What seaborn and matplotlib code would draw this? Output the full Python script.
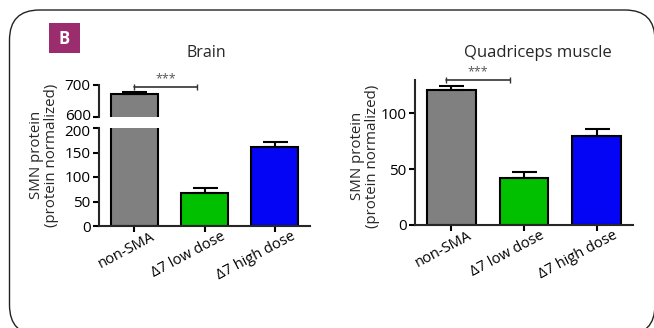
import numpy as np
import matplotlib
matplotlib.use("Agg")
import matplotlib.pyplot as plt
import matplotlib.transforms as mtrans
from matplotlib.patches import FancyBboxPatch, Rectangle
import seaborn as sns

# Datos
grupos = ["non-SMA", "Δ7 low dose", "Δ7 high dose"]
colores = ["#808080", "#00c000", "#0505f5"]
cerebro = [672, 67, 161]
cerebro_err = [6, 10, 10]
cuadriceps = [121, 42, 80]
cuadriceps_err = [3.5, 5.5, 6]

sns.set_theme(style="ticks")
plt.rcParams["font.family"] = ["Open Sans", "DejaVu Sans"]
plt.rcParams["axes.linewidth"] = 1.5

fig = plt.figure(figsize=(6.54, 3.28), dpi=100)

# Marco redondeado y etiqueta "B"
fondo = fig.add_axes([0, 0, 1, 1], zorder=-1)
fondo.set_xlim(0, 654)
fondo.set_ylim(328, 0)
fondo.axis("off")
fondo.add_patch(FancyBboxPatch((9.5, 10), 645.5, 325, boxstyle="round,pad=0,rounding_size=30",
                               fc="white", ec="#222222", lw=1.0, clip_on=False))
fondo.add_patch(Rectangle((49, 23), 31, 30, fc="#9b2d6f", ec="none"))
fondo.text(64.5, 38.5, "B", color="white", fontsize=12, fontweight="bold", ha="center", va="center")


def px(dx, dy):
    # desplazamiento en pixeles
    return mtrans.ScaledTranslation(dx / 100, dy / 100, fig.dpi_scale_trans)


def barras(ax, valores, errores):
    sns.barplot(x=grupos, y=valores, hue=grupos, palette=colores, legend=False, width=0.67,
                saturation=1, edgecolor="black", linewidth=1.5, ax=ax)
    ax.errorbar(range(len(grupos)), valores, yerr=[np.zeros(len(grupos)), errores], fmt="none",
                ecolor="black", elinewidth=1.5, capsize=9, capthick=1.5)
    ax.set_xlim(-0.5, 2.5)
    ax.set_xlabel("")
    ax.set_ylabel("")
    ax.tick_params(width=1.5, length=4, pad=2, colors="black")
    ax.tick_params(axis="y", labelsize=11)
    ax.tick_params(axis="x", labelsize=10.5)
    sns.despine(ax=ax)


def etiquetas_x(ax):
    for lab in ax.get_xticklabels():
        lab.set_rotation(28)
        lab.set_ha("right")
        lab.set_va("top")
        lab.set_rotation_mode("anchor")
        lab.set_transform(lab.get_transform() + px(16, 5))


def signif(ax, x0, x1, y, ys):
    ax.plot([x0, x1], [y, y], color="#333333", lw=1.2, marker="|", markersize=5, clip_on=False)
    ax.text((x0 + x1) / 2, ys, "***", ha="center", va="center", fontsize=9, color="#555555")


# Panel izquierdo: Brain (eje partido)
ax_bajo = fig.add_axes([99 / 654, 102 / 328, 211 / 654, 98 / 328])
ax_alto = fig.add_axes([99 / 654, 211 / 328, 211 / 654, 32 / 328])
barras(ax_bajo, cerebro, cerebro_err)
barras(ax_alto, cerebro, cerebro_err)
ax_bajo.set_ylim(0, 200)
ax_bajo.set_yticks([0, 50, 100, 150, 200])
ax_alto.set_ylim(600, 700)
ax_alto.set_yticks([600, 700])
ax_alto.spines["bottom"].set_visible(False)
ax_alto.tick_params(axis="x", bottom=False, labelbottom=False)
etiquetas_x(ax_bajo)
# separar un poco las etiquetas 600 / 200 junto al corte
l600 = ax_alto.get_yticklabels()[0]
l600.set_transform(l600.get_transform() + px(0, 2))
l200 = ax_bajo.get_yticklabels()[-1]
l200.set_transform(l200.get_transform() + px(0, -2))
signif(ax_alto, 0.0, 0.9, 694, 718)

# Panel derecho: Quadriceps muscle
ax_der = fig.add_axes([415 / 654, 103 / 328, 218 / 654, 145 / 328])
barras(ax_der, cuadriceps, cuadriceps_err)
ax_der.set_ylim(0, 130)
ax_der.set_yticks([0, 50, 100])
etiquetas_x(ax_der)
signif(ax_der, -0.08, 0.81, 130, 137.5)

fig.text(206 / 654, 1 - 53 / 328, "Brain", ha="center", va="center", fontsize=11.5)
fig.text(538 / 654, 1 - 53 / 328, "Quadriceps muscle", ha="center", va="center", fontsize=12)
fig.text(44 / 654, 1 - 155 / 328, "SMN protein\n(protein normalized)", rotation=90,
         ha="center", va="center", fontsize=10.8, linespacing=1.05)
fig.text(365 / 654, 1 - 156 / 328, "SMN protein\n(protein normalized)", rotation=90,
         ha="center", va="center", fontsize=10.8, linespacing=1.05)

fig.savefig("out.png", dpi=100)
plt.close()
